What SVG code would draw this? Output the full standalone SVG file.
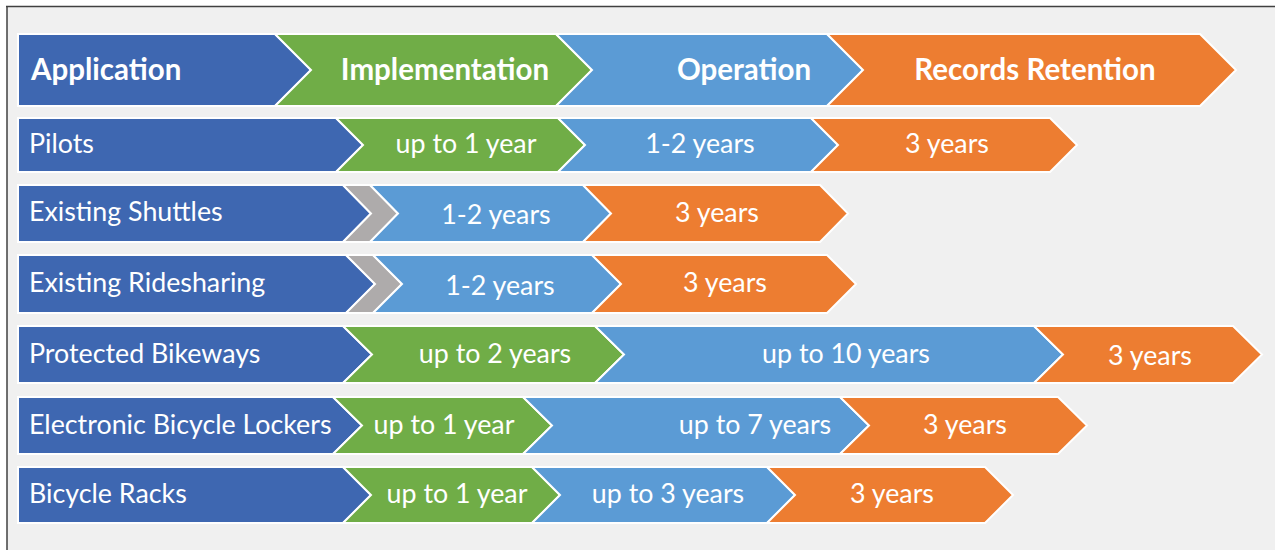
<svg xmlns="http://www.w3.org/2000/svg" width="1275" height="550" viewBox="0 0 1275 550">
<style>
.s{stroke:#ffffff;stroke-width:2;stroke-linejoin:miter}
.db{fill:#3E67B1}
.gr{fill:#70AD47}
.lb{fill:#5B9BD5}
.or{fill:#ED7D31}
.gy{fill:#AEABAB}
.h{font-family:Lato,"Liberation Sans",sans-serif;font-weight:bold;font-size:29.5px;fill:#ffffff}
.t{font-family:Lato,"Liberation Sans",sans-serif;font-size:26.8px;fill:#ffffff}
.m{text-anchor:middle}
</style>
<rect x="0" y="0" width="1275" height="550" fill="#ffffff"/>
<rect x="7" y="7" width="1268" height="543" fill="#F0F0F0"/>
<line x1="6" y1="6.5" x2="1275" y2="6.5" stroke="#404040" stroke-width="1.5"/>
<line x1="7" y1="6" x2="7" y2="550" stroke="#404040" stroke-width="1.5"/>

<!-- Row 1 header -->
<g id="h-application"><polygon class="s db" points="18,34 275,34 311,70 275,106 18,106"/><text class="h" x="31" y="80">Application</text></g>
<g id="h-implementation"><polygon class="s gr" points="275,34 556,34 592,70 556,106 275,106 311,70"/><text class="h m" x="445" y="80">Implementation</text></g>
<g id="h-operation"><polygon class="s lb" points="556,34 827,34 863,70 827,106 556,106 592,70"/><text class="h m" x="744" y="80">Operation</text></g>
<g id="h-retention"><polygon class="s or" points="827,34 1200,34 1236,70 1200,106 827,106 863,70"/><text class="h m" x="1035" y="80">Records Retention</text></g>

<!-- Row 2 Pilots -->
<g id="pilots"><polygon class="s db" points="18,118 336,118 363,145 336,172 18,172"/><text class="t" x="29" y="153">Pilots</text></g>
<g id="pilots-impl"><polygon class="s gr" points="336,118 558,118 585,145 558,172 336,172 363,145"/><text class="t m" x="466" y="153">up to 1 year</text></g>
<g id="pilots-op"><polygon class="s lb" points="558,118 811,118 838,145 811,172 558,172 585,145"/><text class="t m" x="700" y="153">1-2 years</text></g>
<g id="pilots-ret"><polygon class="s or" points="811,118 1050,118 1077,145 1050,172 811,172 838,145"/><text class="t m" x="947" y="153">3 years</text></g>

<!-- Row 3 Existing Shuttles -->
<g id="shuttles"><polygon class="s db" points="18,185 343,185 371,213.5 343,242 18,242"/><text class="t" x="29" y="221">Existing Shuttles</text></g>
<g id="shuttles-impl"><polygon class="s gy" points="343,185 370,185 398,213.5 370,242 343,242 371,213.5"/></g>
<g id="shuttles-op"><polygon class="s lb" points="370,185 583,185 611,213.5 583,242 370,242 398,213.5"/><text class="t m" x="496" y="224">1-2 years</text></g>
<g id="shuttles-ret"><polygon class="s or" points="583,185 820,185 848,213.5 820,242 583,242 611,213.5"/><text class="t m" x="717" y="222">3 years</text></g>

<!-- Row 4 Existing Ridesharing -->
<g id="ridesharing"><polygon class="s db" points="18,255 346,255 375,284 346,313 18,313"/><text class="t" x="29" y="292">Existing Ridesharing</text></g>
<g id="ridesharing-impl"><polygon class="s gy" points="346,255 373,255 402,284 373,313 346,313 375,284"/></g>
<g id="ridesharing-op"><polygon class="s lb" points="373,255 592,255 621,284 592,313 373,313 402,284"/><text class="t m" x="500" y="295">1-2 years</text></g>
<g id="ridesharing-ret"><polygon class="s or" points="592,255 827,255 856,284 827,313 592,313 621,284"/><text class="t m" x="725" y="292">3 years</text></g>

<!-- Row 5 Protected Bikeways -->
<g id="bikeways"><polygon class="s db" points="18,326 343,326 372,354.5 343,383 18,383"/><text class="t" x="29" y="363">Protected Bikeways</text></g>
<g id="bikeways-impl"><polygon class="s gr" points="343,326 595,326 624,354.5 595,383 343,383 372,354.5"/><text class="t m" x="495" y="363">up to 2 years</text></g>
<g id="bikeways-op"><polygon class="s lb" points="595,326 1034,326 1063,354.5 1034,383 595,383 624,354.5"/><text class="t m" x="846" y="363">up to 10 years</text></g>
<g id="bikeways-ret"><polygon class="s or" points="1034,326 1233,326 1262,354.5 1233,383 1034,383 1063,354.5"/><text class="t m" x="1150" y="365">3 years</text></g>

<!-- Row 6 Electronic Bicycle Lockers -->
<g id="lockers"><polygon class="s db" points="18,397 333,397 362,425.5 333,454 18,454"/><text class="t" x="29" y="434">Electronic Bicycle Lockers</text></g>
<g id="lockers-impl"><polygon class="s gr" points="333,397 523,397 552,425.5 523,454 333,454 362,425.5"/><text class="t m" x="444" y="434">up to 1 year</text></g>
<g id="lockers-op"><polygon class="s lb" points="523,397 840,397 869,425.5 840,454 523,454 552,425.5"/><text class="t m" x="755" y="434">up to 7 years</text></g>
<g id="lockers-ret"><polygon class="s or" points="840,397 1058,397 1087,425.5 1058,454 840,454 869,425.5"/><text class="t m" x="965" y="434">3 years</text></g>

<!-- Row 7 Bicycle Racks -->
<g id="racks"><polygon class="s db" points="18,467 343,467 371,495 343,523 18,523"/><text class="t" x="29" y="503">Bicycle Racks</text></g>
<g id="racks-impl"><polygon class="s gr" points="343,467 532,467 560,495 532,523 343,523 371,495"/><text class="t m" x="457" y="503">up to 1 year</text></g>
<g id="racks-op"><polygon class="s lb" points="532,467 767,467 795,495 767,523 532,523 560,495"/><text class="t m" x="668" y="503">up to 3 years</text></g>
<g id="racks-ret"><polygon class="s or" points="767,467 985,467 1013,495 985,523 767,523 795,495"/><text class="t m" x="892" y="503">3 years</text></g>
</svg>
